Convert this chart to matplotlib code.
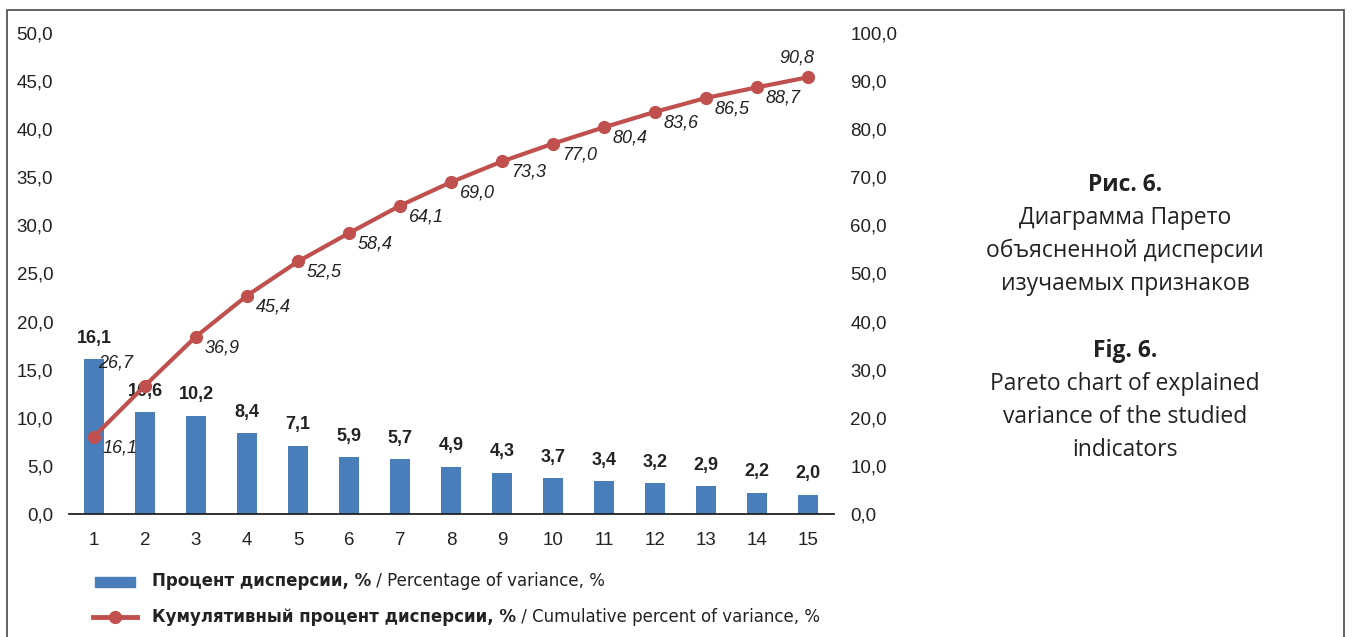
import matplotlib
matplotlib.use("Agg")
import matplotlib.pyplot as plt
from matplotlib.patches import Rectangle
from matplotlib.lines import Line2D

# Components and their share of explained variance
components = list(range(1, 16))
variance_pct = [16.1, 10.6, 10.2, 8.4, 7.1, 5.9, 5.7, 4.9, 4.3, 3.7, 3.4, 3.2, 2.9, 2.2, 2.0]
cumulative_pct = [16.1, 26.7, 36.9, 45.4, 52.5, 58.4, 64.1, 69.0, 73.3, 77.0, 80.4, 83.6, 86.5, 88.7, 90.8]
left_ticks = [0, 5, 10, 15, 20, 25, 30, 35, 40, 45, 50]
right_ticks = [0, 10, 20, 30, 40, 50, 60, 70, 80, 90, 100]

BAR_COLOR = "#4A7EBB"
LINE_COLOR = "#C0504D"
TEXT_COLOR = "#222222"
TICK_FONT = "Liberation Sans"
CAPTION_FONT = "Open Sans"


def fmt(v):
    return f"{v:.1f}".replace(".", ",")


W, H = 1353, 637
fig = plt.figure(figsize=(W / 100, H / 100), dpi=100)

# Frame around the figure (open at the bottom edge)
fig.add_artist(Rectangle((7 / W, -0.05), (1344 - 7) / W, 1.05 - 10 / H,
                         transform=fig.transFigure, fill=False,
                         edgecolor="#555555", linewidth=1.3, clip_on=False))

ax = fig.add_axes([68.5 / W, 1 - 514 / H, (833.5 - 68.5) / W, (514 - 33) / H])
ax2 = ax.twinx()

ax.bar(components, variance_pct, width=0.4, color=BAR_COLOR, zorder=2)
ax.set_xlim(0.5, 15.5)
ax.set_ylim(0, 50)
ax.set_yticks(left_ticks)
ax.set_yticklabels([fmt(t) for t in left_ticks])
ax.set_xticks(components)
ax.set_xticklabels([str(c) for c in components])

ax2.set_ylim(0, 100)
ax2.set_yticks(right_ticks)
ax2.set_yticklabels([fmt(t) for t in right_ticks])
ax2.plot(components, cumulative_pct, color=LINE_COLOR, linewidth=3,
         marker="o", markersize=8.5, zorder=3, solid_capstyle="round")

for a in (ax, ax2):
    for s in a.spines.values():
        s.set_visible(False)
ax.spines["bottom"].set_visible(True)
ax.spines["bottom"].set_color("#222222")
ax.spines["bottom"].set_linewidth(1.3)

ax.tick_params(axis="y", length=0, pad=11, labelsize=13.5, labelcolor=TEXT_COLOR)
ax.tick_params(axis="x", length=0, pad=13, labelsize=13.5, labelcolor=TEXT_COLOR)
ax2.tick_params(axis="y", length=0, pad=12, labelsize=13.5, labelcolor=TEXT_COLOR)
for lbl in ax.get_xticklabels() + ax.get_yticklabels() + ax2.get_yticklabels():
    lbl.set_fontfamily(TICK_FONT)

# Bar value labels
for x, v in zip(components, variance_pct):
    ax.annotate(fmt(v), (x, v), xytext=(0, 21), textcoords="offset pixels",
                ha="center", va="center", fontsize=13, fontweight="bold",
                family=TICK_FONT, color=TEXT_COLOR, zorder=4)

# Cumulative value labels
for i, (x, v) in enumerate(zip(components, cumulative_pct)):
    if i == 1:
        off, ha = (-12, 23), "right"
    elif i == len(components) - 1:
        off, ha = (-11, 19), "center"
    else:
        off, ha = (9, -11), "left"
    ax2.annotate(fmt(v), (x, v), xytext=off, textcoords="offset pixels",
                 ha=ha, va="center", fontsize=13, fontstyle="italic",
                 family=TICK_FONT, color=TEXT_COLOR, zorder=4)

# Legend drawn in figure coordinates
renderer = fig.canvas.get_renderer()
fig.add_artist(Rectangle((95 / W, 1 - 587 / H), 40 / W, 10 / H,
                         transform=fig.transFigure, color=BAR_COLOR))
fig.add_artist(Line2D([93 / W, 137 / W], [1 - 617 / H, 1 - 617 / H],
                      transform=fig.transFigure, color=LINE_COLOR, linewidth=3.5))
fig.add_artist(Line2D([115 / W], [1 - 617 / H], transform=fig.transFigure,
                      color=LINE_COLOR, marker="o", markersize=8.5))

legend_rows = [
    ("Процент дисперсии, %", " / Percentage of variance, %", 581),
    ("Кумулятивный процент дисперсии, %", " / Cumulative percent of variance, %", 617),
]
for bold_part, plain_part, ypix in legend_rows:
    t = fig.text(152 / W, 1 - ypix / H, bold_part, fontsize=12, fontweight="bold",
                 family="Liberation Sans Narrow", color=TEXT_COLOR,
                 ha="left", va="center")
    bb = t.get_window_extent(renderer)
    fig.text(bb.x1 / W, 1 - ypix / H, plain_part, fontsize=12,
             family="Liberation Sans Narrow", color=TEXT_COLOR,
             ha="left", va="center")

# Caption
caption = [
    ("Рис. 6.", "bold", 185),
    ("Диаграмма Парето", "normal", 218),
    ("объясненной дисперсии", "normal", 251),
    ("изучаемых признаков", "normal", 284),
    ("Fig. 6.", "bold", 351),
    ("Pareto chart of explained", "normal", 384),
    ("variance of the studied", "normal", 417),
    ("indicators", "normal", 450),
]
for text, weight, ypix in caption:
    fig.text(1125 / W, 1 - ypix / H, text, fontsize=16.5, fontweight=weight,
             family=CAPTION_FONT, color=TEXT_COLOR, ha="center", va="center")

fig.savefig("out.png", dpi=100, facecolor="white")
